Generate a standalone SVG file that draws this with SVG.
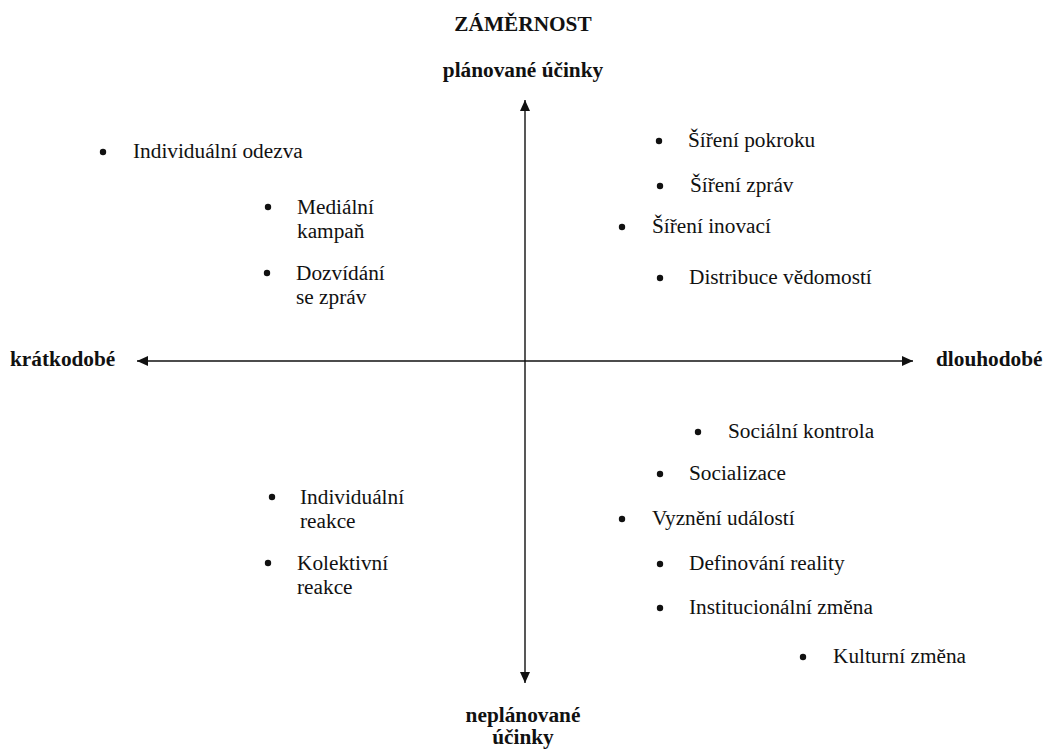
<svg xmlns="http://www.w3.org/2000/svg" width="1044" height="751" viewBox="0 0 1044 751">
<defs>
<style>
.t{font-family:"Liberation Serif","Times New Roman",serif;font-size:21.3px;fill:#111}
.b{font-family:"Liberation Serif","Times New Roman",serif;font-size:21.3px;font-weight:bold;fill:#111}
.m{text-anchor:middle}
.dot{fill:#111}
.ax{stroke:#111;stroke-width:1.4;fill:none}
</style>
<marker id="ah" markerUnits="userSpaceOnUse" markerWidth="12" markerHeight="11" refX="11" refY="5" orient="auto-start-reverse" viewBox="0 0 12 10">
<path d="M0,0 L11,5 L0,10 z" fill="#111"/>
</marker>
</defs>
<rect width="1044" height="751" fill="#fff"/>
<g id="connectors">
<line class="ax" x1="137" y1="361" x2="913" y2="361" marker-start="url(#ah)" marker-end="url(#ah)"/>
<line class="ax" x1="525" y1="100" x2="525" y2="683" marker-start="url(#ah)" marker-end="url(#ah)"/>
</g>
<g id="title"><text class="b m" x="523" y="31">ZÁMĚRNOST</text></g>
<g id="axis-top"><text class="b m" x="523" y="77">plánované účinky</text></g>
<g id="axis-bottom"><text class="b m" x="523" y="722">neplánované</text><text class="b m" x="523" y="744">účinky</text></g>
<g id="axis-left"><text class="b" x="10" y="366">krátkodobé</text></g>
<g id="axis-right"><text class="b" x="936" y="366">dlouhodobé</text></g>

<g id="individualni-odezva"><circle class="dot" cx="103" cy="152" r="3.2"/><text class="t" x="133" y="158">Individuální odezva</text></g>
<g id="medialni-kampan"><circle class="dot" cx="268" cy="207" r="3.2"/><text class="t" x="297" y="214">Mediální</text><text class="t" x="297" y="238">kampaň</text></g>
<g id="dozvidani"><circle class="dot" cx="267" cy="273" r="3.2"/><text class="t" x="296" y="280">Dozvídání</text><text class="t" x="296" y="304">se zpráv</text></g>

<g id="sireni-pokroku"><circle class="dot" cx="659" cy="141" r="3.2"/><text class="t" x="688" y="147">Šíření pokroku</text></g>
<g id="sireni-zprav"><circle class="dot" cx="660" cy="186" r="3.2"/><text class="t" x="690" y="192">Šíření zpráv</text></g>
<g id="sireni-inovaci"><circle class="dot" cx="622" cy="227" r="3.2"/><text class="t" x="652" y="233">Šíření inovací</text></g>
<g id="distribuce"><circle class="dot" cx="660" cy="278" r="3.2"/><text class="t" x="689" y="284">Distribuce vědomostí</text></g>

<g id="individualni-reakce"><circle class="dot" cx="272" cy="497" r="3.2"/><text class="t" x="300" y="504">Individuální</text><text class="t" x="300" y="528">reakce</text></g>
<g id="kolektivni-reakce"><circle class="dot" cx="268" cy="563" r="3.2"/><text class="t" x="297" y="570">Kolektivní</text><text class="t" x="297" y="594">reakce</text></g>

<g id="socialni-kontrola"><circle class="dot" cx="698" cy="432" r="3.2"/><text class="t" x="728" y="438">Sociální kontrola</text></g>
<g id="socializace"><circle class="dot" cx="660" cy="474" r="3.2"/><text class="t" x="689" y="480">Socializace</text></g>
<g id="vyzneni"><circle class="dot" cx="622" cy="519" r="3.2"/><text class="t" x="652" y="525">Vyznění událostí</text></g>
<g id="definovani"><circle class="dot" cx="660" cy="564" r="3.2"/><text class="t" x="689" y="570">Definování reality</text></g>
<g id="institucionalni"><circle class="dot" cx="660" cy="608" r="3.2"/><text class="t" x="689" y="614">Institucionální změna</text></g>
<g id="kulturni"><circle class="dot" cx="803" cy="657" r="3.2"/><text class="t" x="833" y="663">Kulturní změna</text></g>
</svg>
